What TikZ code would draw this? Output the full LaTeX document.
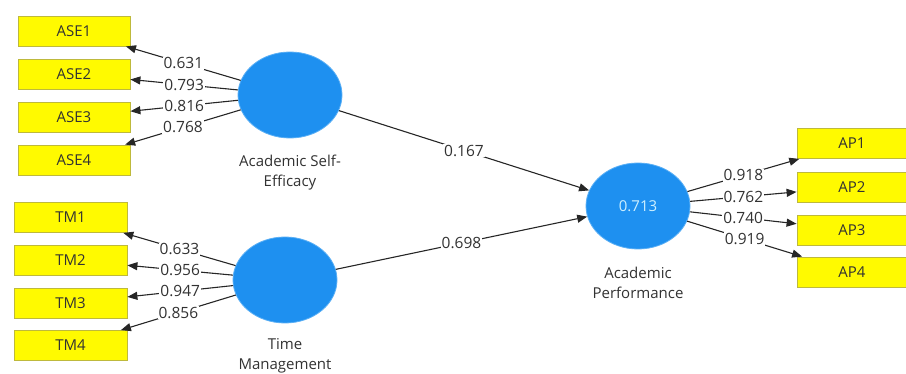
\documentclass[tikz,border=0pt]{standalone}
\usepackage{fontspec}
\setmainfont{Open Sans}
\usetikzlibrary{arrows.meta,shapes.geometric}
\definecolor{indfill}{RGB}{255,250,0}
\definecolor{inddraw}{RGB}{190,185,60}
\definecolor{latfill}{RGB}{30,144,240}
\definecolor{latedge}{RGB}{90,175,245}
\definecolor{txtgray}{RGB}{50,50,50}
\definecolor{rsq}{RGB}{205,240,255}
\begin{document}
\begin{tikzpicture}[x=1pt,y=-1pt,
  indicator/.style={draw=inddraw,fill=indfill,line width=0.8pt,minimum height=30pt,inner sep=0pt,font=\fontsize{15}{17}\selectfont,text=txtgray},
  latent/.style={ellipse,fill=latfill,draw=latedge,line width=0.8pt,inner sep=0pt,minimum width=104pt,minimum height=86pt},
  caption/.style={align=center,font=\fontsize{15}{20}\selectfont,text=txtgray},
  link/.style={draw=black!85,line width=1.1pt,-{Triangle[length=10pt,width=8pt]}},
  coef/.style={fill=white,inner sep=1pt,font=\fontsize{15.5}{17}\selectfont,text=txtgray}
]
\useasboundingbox (0,0) rectangle (906,374);

% indicator boxes
\node[indicator,minimum width=112pt] (ase1) at (74,31)  {ASE1};
\node[indicator,minimum width=112pt] (ase2) at (74,74)  {ASE2};
\node[indicator,minimum width=112pt] (ase3) at (74,117) {ASE3};
\node[indicator,minimum width=112pt] (ase4) at (74,160) {ASE4};

\node[indicator,minimum width=113pt] (tm1) at (70.5,217.5) {TM1};
\node[indicator,minimum width=113pt] (tm2) at (70.5,260)   {TM2};
\node[indicator,minimum width=113pt] (tm3) at (70.5,303)   {TM3};
\node[indicator,minimum width=113pt] (tm4) at (70.5,345.5) {TM4};

\node[indicator,minimum width=110pt] (ap1) at (852,143.5) {AP1};
\node[indicator,minimum width=110pt] (ap2) at (852,187)   {AP2};
\node[indicator,minimum width=110pt] (ap3) at (852,230)   {AP3};
\node[indicator,minimum width=110pt] (ap4) at (852,272)   {AP4};

% latent variables
\node[latent] (ase) at (290,95) {};
\node[latent] (tm)  at (285,280) {};
\node[latent,text=rsq,font=\fontsize{15}{17}\selectfont] (ap) at (638,206) {0.713};

\node[caption] (asecap) at (290,173) {Academic Self-\\Efficacy};
\node[caption] (tmcap)  at (285,356) {Time\\Management};
\node[caption] (apcap)  at (638,283) {Academic\\Performance};

% outer loadings
\draw[link] (ase) -- node[coef] {0.631} (ase1);
\draw[link] (ase) -- node[coef] {0.793} (ase2);
\draw[link] (ase) -- node[coef] {0.816} (ase3);
\draw[link] (ase) -- node[coef] {0.768} (ase4);

\draw[link] (tm) -- node[coef] {0.633} (tm1);
\draw[link] (tm) -- node[coef] {0.956} (tm2);
\draw[link] (tm) -- node[coef] {0.947} (tm3);
\draw[link] (tm) -- node[coef] {0.856} (tm4);

\draw[link] (ap) -- node[coef] {0.918} (ap1);
\draw[link] (ap) -- node[coef] {0.762} (ap2);
\draw[link] (ap) -- node[coef] {0.740} (ap3);
\draw[link] (ap) -- node[coef] {0.919} (ap4);

% path coefficients
\draw[link] (ase) -- node[coef] {0.167} (ap);
\draw[link] (tm)  -- node[coef] {0.698} (ap);
\end{tikzpicture}
\end{document}
